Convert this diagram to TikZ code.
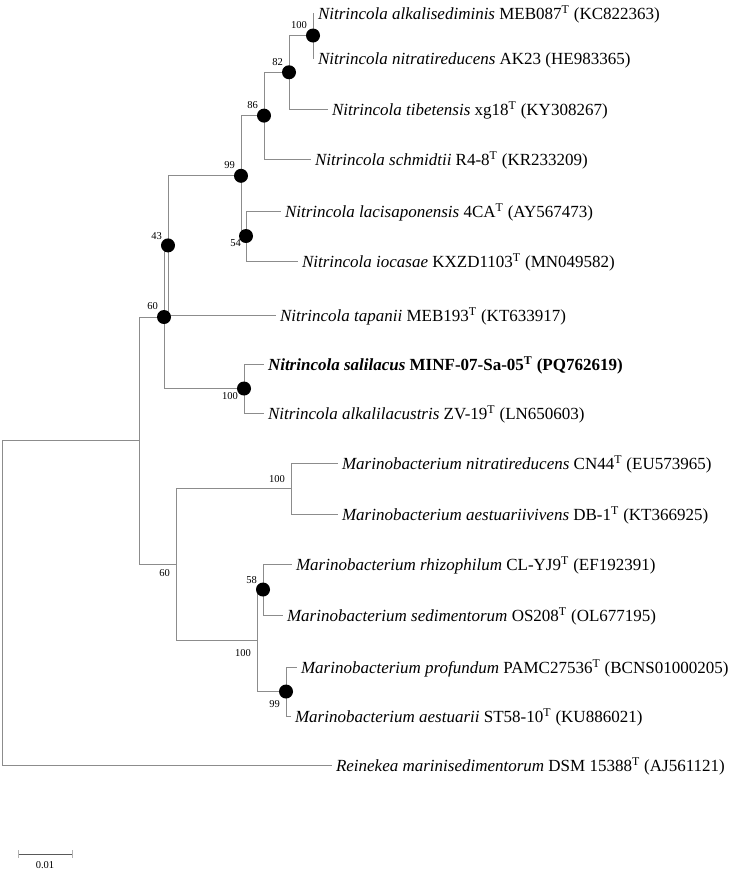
\documentclass[tikz,border=0pt]{standalone}
\usepackage{fontspec}
\setmainfont{Liberation Serif}
\usetikzlibrary{calc}
\begin{document}
\begin{tikzpicture}[x=0.75pt,y=-0.75pt,
  br/.style={draw=black!45,line width=0.75pt},
  leaf/.style={anchor=west,inner xsep=3pt,inner ysep=0pt,outer sep=0pt,
    font=\fontsize{12.75pt}{15pt}\selectfont,text height=12pt,text depth=3pt},
  bs/.style={inner sep=0pt,outer sep=0pt,font=\fontsize{7.9pt}{9pt}\selectfont,
    text height=5.6pt,text depth=0pt},
  dot/.style={circle,fill=black,draw=none,inner sep=0pt,minimum size=10.5pt},
  sbar/.style={draw=black!65,line width=0.75pt},
  stick/.style={draw=black!30,line width=0.75pt}]
\useasboundingbox (0,0) rectangle (735,872);
% internal nodes
\coordinate (A) at (313,35.5);
\coordinate (B) at (289,72.25);
\coordinate (C) at (264,115.6);
\coordinate (E) at (246,236);
\coordinate (D) at (241,175.8);
\coordinate (F) at (168,245.4);
\coordinate (H) at (244,388.5);
\coordinate (G) at (164,317);
\coordinate (K) at (291,488.5);
\coordinate (M) at (263,589.5);
\coordinate (N) at (286,691.5);
\coordinate (L) at (257,640.5);
\coordinate (J) at (176,564.5);
\coordinate (I) at (139,440.75);
\coordinate (R) at (2,602.9);
% leaves
\node[leaf] (l1) at (314,13) {\textit{Nitrincola alkalisediminis} MEB087\textsuperscript{T} (KC822363)};
\node[leaf] (l2) at (314,58) {\textit{Nitrincola nitratireducens} AK23 (HE983365)};
\node[leaf] (l3) at (328,109) {\textit{Nitrincola tibetensis} xg18\textsuperscript{T} (KY308267)};
\node[leaf] (l4) at (311,159) {\textit{Nitrincola schmidtii} R4-8\textsuperscript{T} (KR233209)};
\node[leaf] (l5) at (281,211) {\textit{Nitrincola lacisaponensis} 4CA\textsuperscript{T} (AY567473)};
\node[leaf] (l6) at (298,261) {\textit{Nitrincola iocasae} KXZD1103\textsuperscript{T} (MN049582)};
\node[leaf] (l7) at (276,315) {\textit{Nitrincola tapanii} MEB193\textsuperscript{T} (KT633917)};
\node[leaf] (l8) at (264,364) {\textbf{\textit{Nitrincola salilacus} MINF-07-Sa-05\textsuperscript{T} (PQ762619)}};
\node[leaf] (l9) at (264,413) {\textit{Nitrincola alkalilacustris} ZV-19\textsuperscript{T} (LN650603)};
\node[leaf] (l10) at (338,463) {\textit{Marinobacterium nitratireducens} CN44\textsuperscript{T} (EU573965)};
\node[leaf] (l11) at (338,514) {\textit{Marinobacterium aestuariivivens} DB-1\textsuperscript{T} (KT366925)};
\node[leaf] (l12) at (292,564) {\textit{Marinobacterium rhizophilum} CL-YJ9\textsuperscript{T} (EF192391)};
\node[leaf] (l13) at (283,615) {\textit{Marinobacterium sedimentorum} OS208\textsuperscript{T} (OL677195)};
\node[leaf] (l14) at (297,667) {\textit{Marinobacterium profundum} PAMC27536\textsuperscript{T} (BCNS01000205)};
\node[leaf] (l15) at (291,716) {\textit{Marinobacterium aestuarii} ST58-10\textsuperscript{T} (KU886021)};
\node[leaf] (l16) at (332,765) {\textit{Reinekea marinisedimentorum} DSM 15388\textsuperscript{T} (AJ561121)};
% branches
\draw[br] (A) |- (l1.west);
\draw[br] (A) |- (l2.west);
\draw[br] (B) |- (A);
\draw[br] (B) |- (l3.west);
\draw[br] (C) |- (B);
\draw[br] (C) |- (l4.west);
\draw[br] (E) |- (l5.west);
\draw[br] (E) |- (l6.west);
\draw[br] (D) |- (C);
\draw[br] (D) |- (E);
\draw[br] (F) |- (D);
\draw[br] (F) |- (l7.west);
\draw[br] (H) |- (l8.west);
\draw[br] (H) |- (l9.west);
\draw[br] (G) |- (F);
\draw[br] (G) |- (H);
\draw[br] (K) |- (l10.west);
\draw[br] (K) |- (l11.west);
\draw[br] (M) |- (l12.west);
\draw[br] (M) |- (l13.west);
\draw[br] (N) |- (l14.west);
\draw[br] (N) |- (l15.west);
\draw[br] (L) |- (M);
\draw[br] (L) |- (N);
\draw[br] (J) |- (K);
\draw[br] (J) |- (L);
\draw[br] (I) |- (G);
\draw[br] (I) |- (J);
\draw[br] (R) |- (I);
\draw[br] (R) |- (l16.west);
% dots
\foreach \n in {A,B,C,D,E,F,G,H,M,N}{\node[dot] (dot\n) at (\n) {};}
% bootstrap values
\node[bs,anchor=south east] (bA) at ($(A)+(-6,-7)$) {100};
\node[bs,anchor=south east] (bB) at ($(B)+(-6,-7)$) {82};
\node[bs,anchor=south east] (bC) at ($(C)+(-6,-7)$) {86};
\node[bs,anchor=south east] (bD) at ($(D)+(-6,-7)$) {99};
\node[bs,anchor=north east] (bE) at ($(E)+(-5,3)$) {54};
\node[bs,anchor=south east] (bF) at ($(F)+(-6,-6)$) {43};
\node[bs,anchor=south east] (bG) at ($(G)+(-6,-8)$) {60};
\node[bs,anchor=north east] (bH) at ($(H)+(-6,4)$) {100};
\node[bs,anchor=south east] (bK) at ($(K)+(-6,-6)$) {100};
\node[bs,anchor=south east] (bM) at ($(M)+(-6,-6)$) {58};
\node[bs,anchor=north east] (bN) at ($(N)+(-6,9)$) {99};
\node[bs,anchor=north east] (bL) at ($(L)+(-6,9)$) {100};
\node[bs,anchor=north east] (bJ) at ($(J)+(-6,5)$) {60};
% scale bar
\coordinate (s1) at (18,854);
\coordinate (s2) at (72,854);
\draw[sbar] (s1) -- (s2);
\draw[stick] ($(s1)+(0,-4)$) -- ($(s1)+(0,4)$);
\draw[stick] ($(s2)+(0,-4)$) -- ($(s2)+(0,4)$);
\node[bs,anchor=north] (slab) at ($(s1)!0.5!(s2)+(0,7)$) {0.01};
\end{tikzpicture}
\end{document}
